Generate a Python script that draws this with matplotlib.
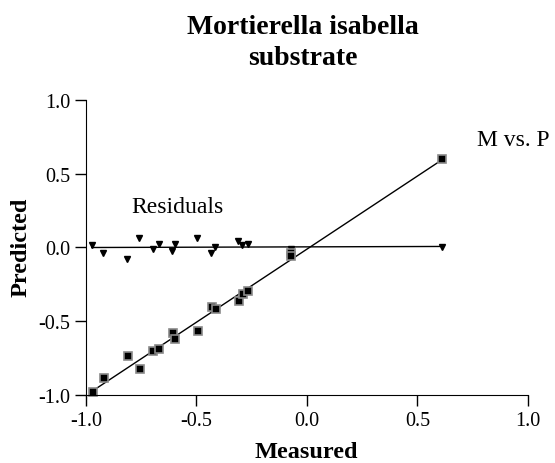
import matplotlib.pyplot as plt
import numpy as np

plt.rcParams["font.family"] = ["Liberation Serif", "DejaVu Serif"]

# measured vs predicted values
measured = [-0.97, -0.918, -0.81, -0.757, -0.695, -0.668, -0.607, -0.595,
            -0.493, -0.43, -0.412, -0.309, -0.291, -0.265, -0.072, -0.072, 0.61]
predicted = [-0.98, -0.885, -0.734, -0.822, -0.70, -0.689, -0.583, -0.622,
             -0.563, -0.405, -0.42, -0.363, -0.313, -0.293, -0.04, -0.058, 0.597]

# residuals
res_x = [-0.974, -0.921, -0.813, -0.758, -0.699, -0.671, -0.61, -0.597,
         -0.496, -0.435, -0.416, -0.314, -0.292, -0.266, -0.072, -0.072, 0.61]
res_y = [0.016, -0.036, -0.079, 0.063, -0.011, 0.022, -0.027, 0.022,
         0.065, -0.036, 0.0, 0.043, 0.014, 0.022, -0.01, -0.03, 0.0]

ticks = [-1.0, -0.5, 0.0, 0.5, 1.0]
tick_labels = ["-1.0", "-0.5", "0.0", "0.5", "1.0"]

fig = plt.figure(figsize=(5.55, 4.64), dpi=100)
ax = fig.add_axes([0.155, 0.1466, 0.796, 0.6357])

# fitted lines
xs = np.array([min(measured), max(measured)])
k, b = np.polyfit(measured, predicted, 1)
ax.plot(xs, k * xs + b, color="black", lw=1)
xr = np.array([min(res_x), max(res_x)])
kr, br = np.polyfit(res_x, res_y, 1)
ax.plot(xr, kr * xr + br, color="black", lw=1)

ax.plot(res_x, res_y, "v", color="black", ms=5, ls="none", clip_on=False)
ax.plot(measured, predicted, "s", mfc="black", mec="#8a8a8a", mew=1.2,
        ms=5.5, ls="none", clip_on=False)

ax.text(-0.793, 0.244, "Residuals", fontsize=17, va="baseline", ha="left")
ax.text(0.769, 0.698, "M vs. P", fontsize=17, va="baseline", ha="left", clip_on=False)

ax.set_xlim(-1, 1)
ax.set_ylim(-1, 1)
ax.set_xticks(ticks)
ax.set_yticks(ticks)
ax.set_xticklabels(tick_labels)
ax.set_yticklabels(tick_labels)
ax.tick_params(labelsize=14.5, length=8, width=1, direction="out")
for s in ["top", "right"]:
    ax.spines[s].set_visible(False)

fig.text(0.551, 0.012, "Measured", fontsize=17.5, fontweight="bold",
         ha="center", va="baseline")
fig.text(0.038, 0.466, "Predicted", fontsize=17.5, fontweight="bold",
         ha="center", va="center", rotation=90)
fig.text(0.546, 0.927, "Mortierella isabella", ha="center", va="baseline",
         fontsize=20, fontweight="bold")
fig.text(0.546, 0.860, "substrate", ha="center", va="baseline",
         fontsize=20, fontweight="bold")

fig.savefig("out.png", dpi=100)
